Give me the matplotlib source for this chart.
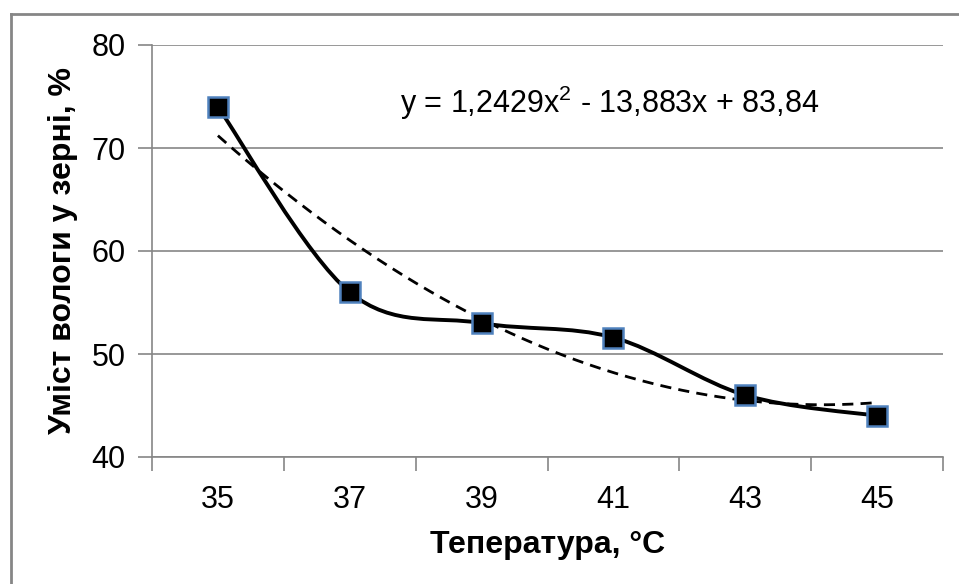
import numpy as np
import matplotlib.pyplot as plt
from matplotlib.path import Path
from matplotlib.patches import PathPatch
from matplotlib.lines import Line2D

plt.rcParams['font.family'] = ['Liberation Sans', 'DejaVu Sans']
plt.rcParams['mathtext.fontset'] = 'custom'
plt.rcParams['mathtext.rm'] = 'Liberation Sans'
plt.rcParams['mathtext.default'] = 'regular'

temps = ['35', '37', '39', '41', '43', '45']
moisture = [74.0, 56.0, 53.0, 51.6, 46.0, 44.0]
trend_coef = [1.2429, -13.883, 83.84]
y_ticks = [40, 50, 60, 70, 80]

grid_c = '#868686'
fs = 22


def smooth_path(xs, ys):
    # excel-like smoothing: bezier segments with catmull-rom handles
    pts = np.column_stack([xs, ys])
    n = len(pts)
    verts = [pts[0]]
    codes = [Path.MOVETO]
    for i in range(n - 1):
        p0 = pts[i - 1] if i > 0 else pts[i]
        p1 = pts[i]
        p2 = pts[i + 1]
        p3 = pts[i + 2] if i + 2 < n else pts[i + 1]
        c1 = p1 + (p2 - p0) / 6
        c2 = p2 - (p3 - p1) / 6
        verts += [c1, c2, p2]
        codes += [Path.CURVE4] * 3
    return Path(verts, codes)


fig = plt.figure(figsize=(9.59, 5.84), dpi=100)
ax = fig.add_axes([152 / 959, 1 - 457 / 584, (943 - 152) / 959, (457 - 45) / 584])

x = np.arange(1, len(temps) + 1)

# trendline
xt = np.linspace(1, len(temps), 200)
ax.plot(xt, np.polyval(trend_coef, xt), color='black', lw=2.0,
        dashes=(4, 2.6), zorder=3)

# smoothed data line
ax.add_patch(PathPatch(smooth_path(x, moisture), fill=False,
                       edgecolor='black', lw=2.8, zorder=4))
ax.plot(x, moisture, ls='none', marker='s', ms=14.5, mfc='black',
        mec='#4F81BD', mew=1.8, zorder=5)

ax.set_xlim(0.5, len(temps) + 0.5)
ax.set_ylim(40, 80)
ax.set_yticks(y_ticks)
ax.set_xticks(np.arange(0.5, len(temps) + 1, 1))
ax.set_xticklabels([])
ax.set_xticks(x, minor=True)
ax.set_xticklabels(temps, minor=True)
ax.tick_params(axis='x', which='major', length=10, color=grid_c, width=1.2)
ax.tick_params(axis='x', which='minor', length=0, pad=20, labelsize=fs)
ax.tick_params(axis='y', length=10, color=grid_c, width=1.2, pad=9,
               labelsize=fs)
ax.grid(axis='y', color=grid_c, lw=1.2)
ax.set_axisbelow(True)
for s in ['top', 'right']:
    ax.spines[s].set_visible(False)
for s in ['left', 'bottom']:
    ax.spines[s].set_color(grid_c)
    ax.spines[s].set_linewidth(1.2)

ax.set_xlabel('Тепература, °C', fontsize=23, fontweight='bold', labelpad=11)
ax.set_ylabel('Уміст вологи у зерні, %', fontsize=23, fontweight='bold',
              labelpad=10)

ax.text(400 / 959, 1 - 103 / 584, 'y = 1,2429x$^{2}$ - 13,883x + 83,84',
        transform=fig.transFigure, fontsize=fs, va='center', ha='left')

# outer chart frame
fx = 10.5 / 959
fy = 1 - 14 / 584
fig.add_artist(Line2D([fx, fx], [0, fy], color=grid_c, lw=2))
fig.add_artist(Line2D([fx, 1], [fy, fy], color=grid_c, lw=2))

fig.savefig('out.png', dpi=100)
